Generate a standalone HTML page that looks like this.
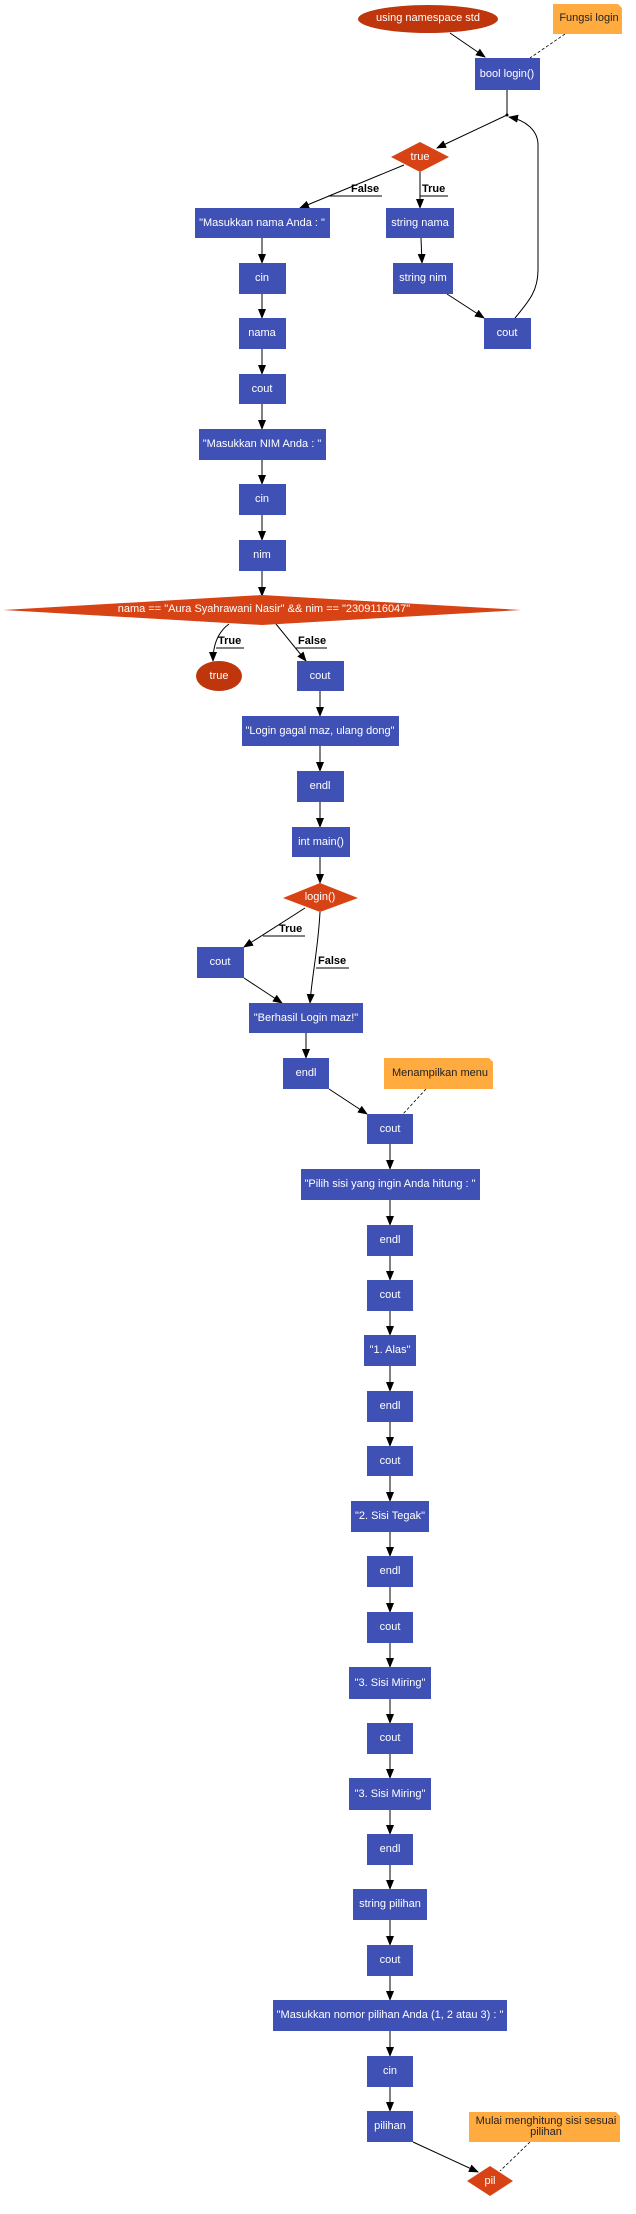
<!DOCTYPE html>
<html><head><meta charset="utf-8"><style>
html,body{margin:0;padding:0;background:#fff;}
svg{display:block;}
text{font-family:"Liberation Sans",sans-serif;font-size:11px;}
.n{fill:#3f51b5;}
.t{fill:#fff;text-anchor:middle;dominant-baseline:central;}
.d{fill:#d84315;}
.e{fill:#bf360c;}
.note{fill:#ffab40;}
.nt{fill:#222;text-anchor:middle;dominant-baseline:central;}
.l{stroke:#000;stroke-width:1;fill:none;}
.dash{stroke:#000;stroke-width:0.8;stroke-dasharray:3,2;fill:none;}
.lb{font-weight:bold;fill:#000;font-size:11px;}
</style></head><body>
<svg width="636" height="2214" viewBox="0 0 636 2214" xmlns="http://www.w3.org/2000/svg">
<defs><marker id="a" markerWidth="10" markerHeight="8" refX="9" refY="4" orient="auto" markerUnits="userSpaceOnUse"><path d="M0,0 L10,4 L0,8 z" fill="#000"/></marker></defs>

<!-- edges -->
<line class="l" x1="450" y1="33" x2="485" y2="57" marker-end="url(#a)"/>
<line class="dash" x1="565" y1="34" x2="530" y2="58"/>
<line class="l" x1="507" y1="90" x2="507" y2="115"/>
<line class="l" x1="507" y1="115" x2="437" y2="148" marker-end="url(#a)"/>
<path class="l" d="M515,318 C530,300 538,290 538,270 L538,145 C538,130 525,120 509,117" marker-end="url(#a)"/>
<line class="l" x1="404" y1="165" x2="300" y2="208" marker-end="url(#a)"/>
<line class="l" x1="328" y1="196" x2="382" y2="196"/>
<line class="l" x1="420" y1="172" x2="420" y2="208" marker-end="url(#a)"/>
<line class="l" x1="420" y1="196" x2="448" y2="196"/>
<line class="l" x1="421" y1="238" x2="422" y2="263" marker-end="url(#a)"/>
<line class="l" x1="447" y1="294" x2="484" y2="318" marker-end="url(#a)"/>
<g marker-end="url(#a)">
<line class="l" x1="262" y1="238" x2="262" y2="263" marker-end="url(#a)"/>
<line class="l" x1="262" y1="294" x2="262" y2="318" marker-end="url(#a)"/>
<line class="l" x1="262" y1="349" x2="262" y2="374" marker-end="url(#a)"/>
<line class="l" x1="262" y1="404" x2="262" y2="429" marker-end="url(#a)"/>
<line class="l" x1="262" y1="460" x2="262" y2="484" marker-end="url(#a)"/>
<line class="l" x1="262" y1="515" x2="262" y2="540" marker-end="url(#a)"/>
<line class="l" x1="262" y1="571" x2="262" y2="596" marker-end="url(#a)"/>
</g>
<path class="l" d="M229,624 C218,632 213,645 213,661" marker-end="url(#a)"/>
<line class="l" x1="216" y1="648" x2="244" y2="648"/>
<line class="l" x1="276" y1="624" x2="306" y2="661" marker-end="url(#a)"/>
<line class="l" x1="296" y1="648" x2="327" y2="648"/>
<line class="l" x1="320" y1="691" x2="320" y2="716" marker-end="url(#a)"/>
<line class="l" x1="320" y1="746" x2="320" y2="771" marker-end="url(#a)"/>
<line class="l" x1="320" y1="802" x2="320" y2="827" marker-end="url(#a)"/>
<line class="l" x1="320" y1="857" x2="320" y2="883" marker-end="url(#a)"/>
<line class="l" x1="305" y1="908" x2="244" y2="947" marker-end="url(#a)"/>
<line class="l" x1="263" y1="936" x2="305" y2="936"/>
<path class="l" d="M320,912 C318,950 312,975 310,1003" marker-end="url(#a)"/>
<line class="l" x1="316" y1="968" x2="349" y2="968"/>
<line class="l" x1="244" y1="978" x2="282" y2="1003" marker-end="url(#a)"/>
<line class="l" x1="306" y1="1033" x2="306" y2="1058" marker-end="url(#a)"/>
<line class="l" x1="329" y1="1089" x2="367" y2="1114" marker-end="url(#a)"/>
<line class="dash" x1="426" y1="1089" x2="403" y2="1114"/>
<line class="l" x1="390" y1="1144" x2="390" y2="1169" marker-end="url(#a)"/>
<line class="l" x1="390" y1="1200" x2="390" y2="1225" marker-end="url(#a)"/>
<line class="l" x1="390" y1="1256" x2="390" y2="1280" marker-end="url(#a)"/>
<line class="l" x1="390" y1="1311" x2="390" y2="1335" marker-end="url(#a)"/>
<line class="l" x1="390" y1="1366" x2="390" y2="1391" marker-end="url(#a)"/>
<line class="l" x1="390" y1="1422" x2="390" y2="1446" marker-end="url(#a)"/>
<line class="l" x1="390" y1="1476" x2="390" y2="1501" marker-end="url(#a)"/>
<line class="l" x1="390" y1="1532" x2="390" y2="1556" marker-end="url(#a)"/>
<line class="l" x1="390" y1="1587" x2="390" y2="1612" marker-end="url(#a)"/>
<line class="l" x1="390" y1="1643" x2="390" y2="1667" marker-end="url(#a)"/>
<line class="l" x1="390" y1="1699" x2="390" y2="1723" marker-end="url(#a)"/>
<line class="l" x1="390" y1="1754" x2="390" y2="1778" marker-end="url(#a)"/>
<line class="l" x1="390" y1="1810" x2="390" y2="1834" marker-end="url(#a)"/>
<line class="l" x1="390" y1="1865" x2="390" y2="1889" marker-end="url(#a)"/>
<line class="l" x1="390" y1="1920" x2="390" y2="1945" marker-end="url(#a)"/>
<line class="l" x1="390" y1="1976" x2="390" y2="2000" marker-end="url(#a)"/>
<line class="l" x1="390" y1="2031" x2="390" y2="2056" marker-end="url(#a)"/>
<line class="l" x1="390" y1="2087" x2="390" y2="2111" marker-end="url(#a)"/>
<line class="l" x1="413" y1="2142" x2="478" y2="2172" marker-end="url(#a)"/>
<line class="dash" x1="530" y1="2142" x2="500" y2="2171"/>

<!-- labels -->
<text class="lb" x="351" y="192">False</text>
<text class="lb" x="422" y="192">True</text>
<text class="lb" x="218" y="644">True</text>
<text class="lb" x="298" y="644">False</text>
<text class="lb" x="279" y="932">True</text>
<text class="lb" x="318" y="964">False</text>

<!-- nodes -->
<ellipse class="e" cx="428" cy="19" rx="70" ry="14"/><text class="t" x="428" y="18">using namespace std</text>
<path class="note" d="M553,4 L618,4 L622,8 L622,34 L553,34 z"/><text class="nt" x="589" y="18">Fungsi login</text>
<rect class="n" x="475" y="58" width="65" height="32"/><text class="t" x="507" y="74">bool login()</text>
<circle cx="507" cy="115" r="1.5" fill="#000"/>
<polygon class="d" points="391,157 420,142 449,157 420,172"/><text class="t" x="420" y="157">true</text>
<rect class="n" x="195" y="208" width="135" height="30"/><text class="t" x="262" y="223">"Masukkan nama Anda : "</text>
<rect class="n" x="386" y="208" width="68" height="30"/><text class="t" x="420" y="223">string nama</text>
<rect class="n" x="393" y="263" width="60" height="31"/><text class="t" x="423" y="278">string nim</text>
<rect class="n" x="484" y="318" width="47" height="31"/><text class="t" x="507" y="333">cout</text>
<rect class="n" x="239" y="263" width="47" height="31"/><text class="t" x="262" y="278">cin</text>
<rect class="n" x="239" y="318" width="47" height="31"/><text class="t" x="262" y="333">nama</text>
<rect class="n" x="239" y="374" width="47" height="30"/><text class="t" x="262" y="389">cout</text>
<rect class="n" x="199" y="429" width="127" height="31"/><text class="t" x="262" y="444">"Masukkan NIM Anda : "</text>
<rect class="n" x="239" y="484" width="47" height="31"/><text class="t" x="262" y="499">cin</text>
<rect class="n" x="239" y="540" width="47" height="31"/><text class="t" x="262" y="555">nim</text>
<polygon class="d" points="3,610 262,595 521,610 262,625"/><text class="t" x="264" y="609">nama == "Aura Syahrawani Nasir" &amp;&amp; nim == "2309116047"</text>
<ellipse class="e" cx="219" cy="676" rx="23" ry="15"/><text class="t" x="219" y="676">true</text>
<rect class="n" x="297" y="661" width="47" height="30"/><text class="t" x="320" y="676">cout</text>
<rect class="n" x="242" y="716" width="157" height="30"/><text class="t" x="320" y="731">"Login gagal maz, ulang dong"</text>
<rect class="n" x="297" y="771" width="47" height="31"/><text class="t" x="320" y="786">endl</text>
<rect class="n" x="292" y="827" width="58" height="30"/><text class="t" x="321" y="842">int main()</text>
<polygon class="d" points="283,898 320,883 358,898 320,912"/><text class="t" x="320" y="897">login()</text>
<rect class="n" x="197" y="947" width="47" height="31"/><text class="t" x="220" y="962">cout</text>
<rect class="n" x="249" y="1003" width="114" height="30"/><text class="t" x="306" y="1018">"Berhasil Login maz!"</text>
<rect class="n" x="283" y="1058" width="46" height="31"/><text class="t" x="306" y="1073">endl</text>
<path class="note" d="M384,1058 L489,1058 L493,1062 L493,1089 L384,1089 z"/><text class="nt" x="440" y="1073">Menampilkan menu</text>
<rect class="n" x="367" y="1114" width="46" height="30"/><text class="t" x="390" y="1129">cout</text>
<rect class="n" x="301" y="1169" width="179" height="31"/><text class="t" x="390" y="1184">"Pilih sisi yang ingin Anda hitung : "</text>
<rect class="n" x="367" y="1225" width="46" height="31"/><text class="t" x="390" y="1240">endl</text>
<rect class="n" x="367" y="1280" width="46" height="31"/><text class="t" x="390" y="1295">cout</text>
<rect class="n" x="364" y="1335" width="52" height="31"/><text class="t" x="390" y="1350">"1. Alas"</text>
<rect class="n" x="367" y="1391" width="46" height="31"/><text class="t" x="390" y="1406">endl</text>
<rect class="n" x="367" y="1446" width="46" height="30"/><text class="t" x="390" y="1461">cout</text>
<rect class="n" x="351" y="1501" width="78" height="31"/><text class="t" x="390" y="1516">"2. Sisi Tegak"</text>
<rect class="n" x="367" y="1556" width="46" height="31"/><text class="t" x="390" y="1571">endl</text>
<rect class="n" x="367" y="1612" width="46" height="31"/><text class="t" x="390" y="1627">cout</text>
<rect class="n" x="349" y="1667" width="82" height="32"/><text class="t" x="390" y="1683">"3. Sisi Miring"</text>
<rect class="n" x="367" y="1723" width="46" height="31"/><text class="t" x="390" y="1738">cout</text>
<rect class="n" x="349" y="1778" width="82" height="32"/><text class="t" x="390" y="1794">"3. Sisi Miring"</text>
<rect class="n" x="367" y="1834" width="46" height="31"/><text class="t" x="390" y="1849">endl</text>
<rect class="n" x="353" y="1889" width="74" height="31"/><text class="t" x="390" y="1904">string pilihan</text>
<rect class="n" x="367" y="1945" width="46" height="31"/><text class="t" x="390" y="1960">cout</text>
<rect class="n" x="273" y="2000" width="234" height="31"/><text class="t" x="390" y="2015">"Masukkan nomor pilihan Anda (1, 2 atau 3) : "</text>
<rect class="n" x="367" y="2056" width="46" height="31"/><text class="t" x="390" y="2071">cin</text>
<rect class="n" x="367" y="2111" width="46" height="31"/><text class="t" x="390" y="2126">pilihan</text>
<path class="note" d="M469,2112 L616,2112 L620,2116 L620,2142 L469,2142 z"/>
<text class="nt" x="546" y="2121">Mulai menghitung sisi sesuai</text>
<text class="nt" x="546" y="2132">pilihan</text>
<polygon class="d" points="467,2181 490,2166 513,2181 490,2196"/><text class="t" x="490" y="2181">pil</text>
</svg>
</body></html>
